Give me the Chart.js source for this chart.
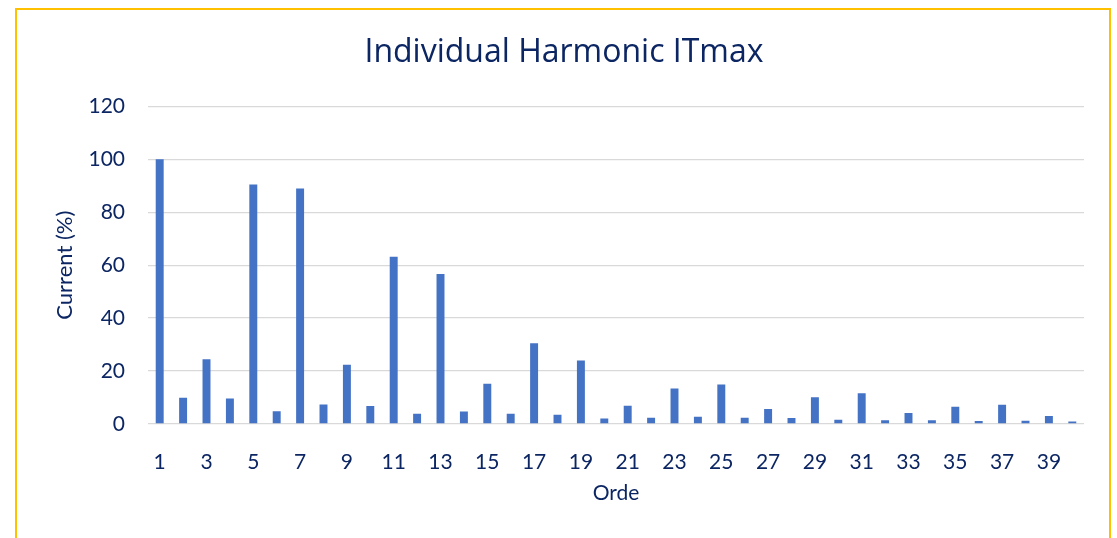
<!DOCTYPE html>
<html>
<head>
<meta charset="utf-8">
<script src="https://cdn.jsdelivr.net/npm/chart.js@4"></script>
<style>
  body { margin: 0; background: #fff; }
  #wrap { position: relative; width: 1117px; height: 538px; overflow: hidden; }
  #frame { position: absolute; left: 15px; top: 8px; width: 1096px; height: 600px; border: 2px solid #FFC000; box-sizing: border-box; }
  canvas { position: absolute; left: 0; top: 0; }
</style>
</head>
<body>
<div id="wrap">
  <div id="frame"></div>
  <canvas id="harmChart" width="1117" height="538"></canvas>
</div>
<script>
// harmonic order 1..40
const orders = [1, 2, 3, 4, 5, 6, 7, 8, 9, 10, 11, 12, 13, 14, 15, 16, 17, 18, 19, 20,
  21, 22, 23, 24, 25, 26, 27, 28, 29, 30, 31, 32, 33, 34, 35, 36, 37, 38, 39, 40];
// current in % of fundamental
const currentPct = [100, 9.9, 24.5, 9.6, 90.5, 4.8, 89, 7.4, 22.4, 6.8,
  63.2, 3.9, 56.7, 4.7, 15.2, 3.9, 30.5, 3.5, 24, 2.1,
  6.9, 2.4, 13.4, 2.7, 14.9, 2.4, 5.7, 2.3, 10.1, 1.6,
  11.6, 1.4, 4.2, 1.4, 6.5, 1.1, 7.3, 1.2, 3.0, 0.9];
const yTicks = [0, 20, 40, 60, 80, 100, 120];

const navy = '#0c2663';
const font = 'Lato, "Open Sans", sans-serif';

const ctx = document.getElementById('harmChart').getContext('2d');
const harmChart = new Chart(ctx, {
  type: 'bar',
  data: {
    labels: orders.map(String),
    datasets: [{
      label: 'Current (%)',
      data: currentPct,
      backgroundColor: '#4472C4',
      borderWidth: 0,
      barPercentage: 0.34,
      categoryPercentage: 1
    }]
  },
  options: {
    responsive: false,
    animation: false,
    // left/right padding keeps the title centred on the frame
    layout: { padding: { left: 44, right: 33, top: 0, bottom: 32 } },
    plugins: {
      legend: { display: false },
      tooltip: { enabled: false },
      title: {
        display: true,
        text: 'Individual Harmonic ITmax',
        color: navy,
        font: { family: '"Open Sans", sans-serif', size: 32, weight: 'normal' },
        padding: { top: 34, bottom: 34 }
      }
    },
    scales: {
      x: {
        grid: { display: false },
        border: { display: false },
        ticks: {
          autoSkip: false,
          maxRotation: 0,
          padding: 18,
          color: navy,
          font: { family: font, size: 21 },
          callback: (v, i) => (i % 2 === 0 ? orders[i] : '')
        },
        title: {
          display: true,
          text: 'Orde',
          color: navy,
          font: { family: font, size: 21 },
          padding: 0
        },
        afterFit: s => { s.height = 82; }
      },
      y: {
        min: 0,
        max: 120,
        afterBuildTicks: s => { s.ticks = yTicks.map(v => ({ value: v })); },
        grid: { color: '#D9D9D9', lineWidth: 1.3, drawTicks: false },
        border: { display: false },
        ticks: {
          padding: 23,
          color: navy,
          font: { family: font, size: 21 }
        },
        title: {
          display: true,
          text: 'Current (%)',
          color: navy,
          font: { family: font, size: 22 },
          padding: { top: 8, bottom: 0 }
        },
        afterFit: s => { s.width = 104; }
      }
    }
  }
});
</script>
</body>
</html>
